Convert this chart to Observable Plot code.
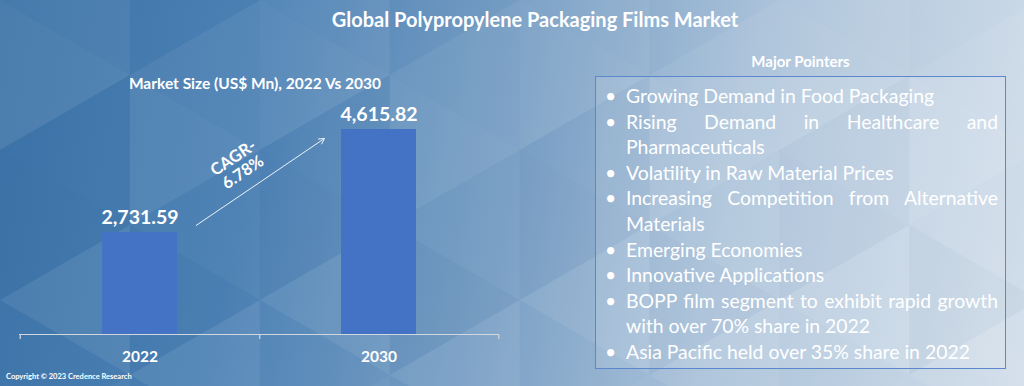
<!DOCTYPE html>
<html>
<head>
<meta charset="utf-8">
<script src="https://cdn.jsdelivr.net/npm/d3@7"></script>
<script src="https://cdn.jsdelivr.net/npm/@observablehq/plot@0.6"></script>
<style>
  html, body { margin: 0; padding: 0; }
  #page {
    position: relative; width: 1024px; height: 386px; overflow: hidden;
    background: linear-gradient(100deg, #3b72a7 0%, #4c81b4 25%, #7aa0c5 50%, #a9c1d9 70%, #d2deea 100%);
    font-family: "Lato", "Open Sans", sans-serif; color: #fff;
  }
  #deco { position: absolute; left: 0; top: 0; }
  #chart { position: absolute; left: 0; top: 0; }
  .title { position: absolute; top: 7px; left: 0; width: 1070px; text-align: center; font-weight: bold; font-size: 20px; }
  .subtitle { position: absolute; top: 74px; left: 0; width: 510px; text-align: center; font-weight: bold; font-size: 15.5px; }
  .ptitle { position: absolute; top: 52px; left: 595px; width: 411px; text-align: center; font-weight: bold; font-size: 15px; }
  .box {
    position: absolute; left: 595px; top: 76px; width: 411px; height: 293px;
    border: 1.5px solid #5b87cf; background: rgba(255,255,255,0.12); box-sizing: border-box;
  }
  .box ul { margin: 0; padding: 6px 7px 0 30px; list-style: none; }
  .box li { position: relative; font-size: 19.4px; line-height: 25.6px; text-align: justify; color: #fff; }
  .box li::before { content: "•"; position: absolute; left: -21px; top: 0; }
  .copy { position: absolute; left: 6px; top: 372px; font-size: 7.5px; font-weight: bold; }
</style>
</head>
<body>
<div id="page">
  <svg id="deco" width="1024" height="386"></svg>
  <div id="chart"></div>
  <div class="title">Global Polypropylene Packaging Films Market</div>
  <div class="subtitle">Market Size (US$ Mn), 2022 Vs 2030</div>
  <div class="ptitle">Major Pointers</div>
  <div class="box"><ul id="pointers"></ul></div>
  <div class="copy">Copyright © 2023 Credence Research</div>
</div>
<script>
// ---- data ----
const years = ["2022", "2030"];
const marketSize = [2731.59, 4615.82];
const cagrText = "CAGR-\n6.78%";
const pointers = [
  "Growing Demand in Food Packaging",
  "Rising Demand in Healthcare and Pharmaceuticals",
  "Volatility in Raw Material Prices",
  "Increasing Competition from Alternative Materials",
  "Emerging Economies",
  "Innovative Applications",
  "BOPP film segment to exhibit rapid growth with over 70% share in 2022",
  "Asia Pacific held over 35% share in 2022"
];
// CAGR arrow endpoints (annotation, in data units)
const arrowFrom = {year: "2022", value: 2165};
const arrowTo = {year: "2030", value: 5128};

// ---- decorative triangle background ----
(function(){
  const svg = d3.select("#deco");
  const s = 150, h = s * Math.sqrt(3) / 2;
  let k = 0;
  for (let col = -1; col < 1024 / h + 2; col++) {
    for (let row = -1; row < 386 / s + 2; row++) {
      const x0 = col * h, y0 = row * s + (col % 2 ? s / 2 : 0);
      const tri1 = [[x0, y0], [x0 + h, y0 + s / 2], [x0, y0 + s]];
      const tri2 = [[x0 + h, y0 + s / 2], [x0, y0 + s], [x0 + h, y0 + 1.5 * s]];
      k++;
      const o1 = [0.05, 0.0, 0.08, 0.03, 0.0, 0.06][k % 6];
      const o2 = [0.0, 0.06, 0.02, 0.07, 0.04, 0.0][k % 6];
      svg.append("polygon").attr("points", tri1.join(" ")).attr("fill", k % 3 ? "#ffffff" : "#1f4f84").attr("opacity", o1);
      svg.append("polygon").attr("points", tri2.join(" ")).attr("fill", k % 4 ? "#ffffff" : "#1f4f84").attr("opacity", o2);
    }
  }
})();

// ---- pointers ----
d3.select("#pointers").selectAll("li").data(pointers).join("li").text(d => d);

// ---- chart ----
const data = years.map((y, i) => ({year: y, value: marketSize[i]}));
const fmt = d3.format(",.2f");

const chart = Plot.plot({
  width: 520,
  height: 386,
  marginLeft: 19,
  marginRight: 22,
  marginTop: 108,
  marginBottom: 47,
  style: {background: "transparent", overflow: "visible"},
  x: {domain: years, paddingInner: 0.687, paddingOuter: 0.3435, axis: null},
  y: {domain: [866, 5000], insetBottom: 5, axis: null},
  marks: [
    Plot.barY(data, {x: "year", y1: 866, y2: "value", fill: "#4472c4"}),
    Plot.ruleY([866], {stroke: "#d0d7df", strokeWidth: 1.2}),
    Plot.ruleX(years.slice(0, 1), {x: d => d, dx: -119.75, insetTop: 226, stroke: "#d0d7df", strokeWidth: 1.2}),
    Plot.ruleX(years, {x: d => d, dx: 119.75, insetTop: 226, stroke: "#d0d7df", strokeWidth: 1.2}),
    Plot.axisX({tickSize: 0, tickPadding: 11, fontSize: 15.5, fontWeight: "bold", fill: "#fff", label: null, fontFamily: "Lato"}),
    Plot.text(data, {x: "year", y: "value", text: d => fmt(d.value), dy: -15, lineAnchor: "middle",
      fill: "#fff", fontSize: 19.5, fontWeight: "bold", fontFamily: "Lato"}),
    Plot.arrow([{}], {x1: () => arrowFrom.year, y1: () => arrowFrom.value, x2: () => arrowTo.year, y2: () => arrowTo.value,
      insetStart: 68, insetEnd: 66, stroke: "#eef3f8", strokeWidth: 1, headLength: 9, bend: 0}),
    Plot.text([cagrText], {frameAnchor: "middle", dx: -21, dy: -59, rotate: -34, text: d => d,
      fill: "#fff", fontSize: 16.5, fontWeight: "bold", fontFamily: "Lato", lineHeight: 1.05})
  ]
});
document.getElementById("chart").append(chart);
</script>
</body>
</html>
